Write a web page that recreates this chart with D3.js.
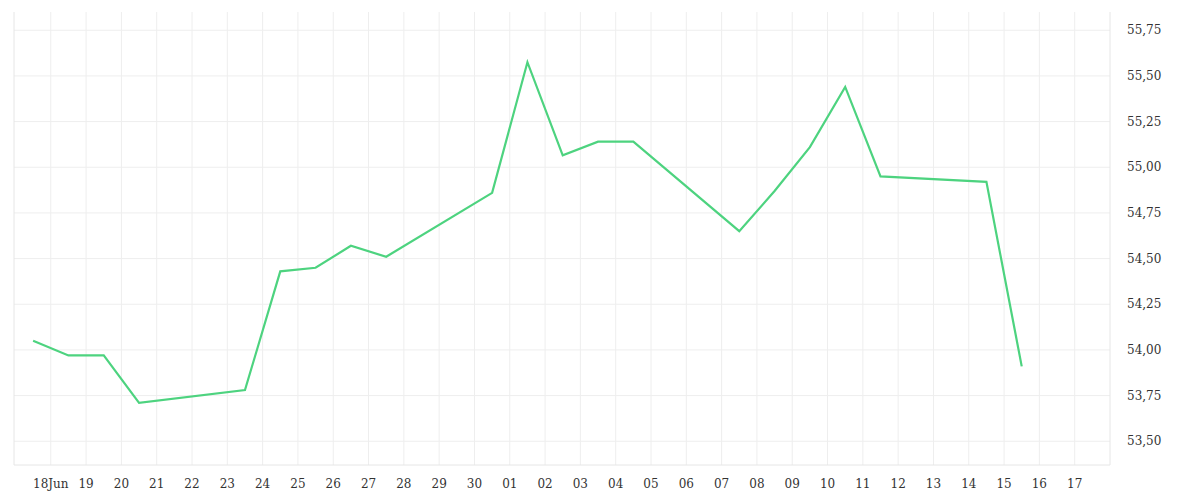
<!DOCTYPE html>
<html lang="en">
<head>
  <meta charset="UTF-8" />
  <title>Line</title>
  <script src="https://cdn.jsdelivr.net/npm/d3@7"></script>
  <style>
    body { margin: 0; background: #fff; }
    text { font-family: "DejaVu Serif", serif; font-size: 12px; fill: #333; }
  </style>
</head>
<body>
  <div class="chart"></div>
  <script>
    // data: points sit at noon of each day
    var dates = ["2023-06-17", "2023-06-18", "2023-06-19", "2023-06-20", "2023-06-23",
      "2023-06-24", "2023-06-25", "2023-06-26", "2023-06-27", "2023-06-30",
      "2023-07-01", "2023-07-02", "2023-07-03", "2023-07-04", "2023-07-07",
      "2023-07-08", "2023-07-09", "2023-07-10", "2023-07-11", "2023-07-14", "2023-07-15"];
    var values = [54.05, 53.97, 53.97, 53.71, 53.78,
      54.43, 54.45, 54.57, 54.51, 54.86,
      55.575, 55.065, 55.14, 55.14, 54.65,
      54.87, 55.11, 55.44, 54.95, 54.92, 53.91];
    var yTicks = [53.5, 53.75, 54, 54.25, 54.5, 54.75, 55, 55.25, 55.5, 55.75];

    var w = 1200, h = 500;
    var pL = 14, pR = 1110, pT = 12, pB = 465;

    var svg = d3.select(".chart").append("svg")
      .attr("width", w).attr("height", h);

    var parse = d3.timeParse("%Y-%m-%d");
    var data = dates.map(function(d, i) {
      return { date: d3.timeHour.offset(parse(d), 12), value: values[i] };
    });

    var x = d3.scaleTime()
      .domain([d3.timeHour.offset(parse("2023-06-17"), -1), parse("2023-07-18")])
      .range([pL, pR]);
    var y = d3.scaleLinear()
      .domain([53.37, 55.85])
      .range([pB, pT]);

    var dayTicks = d3.timeDay.range(parse("2023-06-18"), parse("2023-07-18"));

    // grid
    svg.append("g").selectAll("line")
      .data(dayTicks).enter().append("line")
      .attr("x1", function(d) { return x(d); })
      .attr("x2", function(d) { return x(d); })
      .attr("y1", pT).attr("y2", pB)
      .attr("stroke", "#eeeeee");
    svg.append("g").selectAll("line")
      .data(yTicks).enter().append("line")
      .attr("x1", pL).attr("x2", pR)
      .attr("y1", function(d) { return y(d); })
      .attr("y2", function(d) { return y(d); })
      .attr("stroke", "#eeeeee");

    // frame
    svg.append("line").attr("x1", pL).attr("x2", pR)
      .attr("y1", pB).attr("y2", pB).attr("stroke", "#e6e6e6");
    svg.append("line").attr("x1", pL).attr("x2", pL)
      .attr("y1", pT).attr("y2", pB).attr("stroke", "#e6e6e6");
    svg.append("line").attr("x1", pR).attr("x2", pR)
      .attr("y1", pT).attr("y2", pB).attr("stroke", "#e6e6e6");

    // x labels
    svg.append("g").selectAll("text")
      .data(dayTicks).enter().append("text")
      .attr("x", function(d) { return x(d); })
      .attr("y", 488)
      .attr("text-anchor", "middle")
      .text(function(d, i) {
        return i === 0 ? d3.timeFormat("%d")(d) + "Jun" : d3.timeFormat("%d")(d);
      });

    // y labels
    var fmt = d3.format(".2f");
    svg.append("g").selectAll("text")
      .data(yTicks).enter().append("text")
      .attr("x", 1127)
      .attr("y", function(d) { return y(d) + 4; })
      .text(function(d) { return fmt(d).replace(".", ","); });

    var line = d3.line()
      .x(function(d) { return x(d.date); })
      .y(function(d) { return y(d.value); });

    svg.append("path")
      .datum(data)
      .attr("d", line)
      .attr("fill", "none")
      .attr("stroke", "#4dd37f")
      .attr("stroke-width", 2.2);
  </script>
</body>
</html>
